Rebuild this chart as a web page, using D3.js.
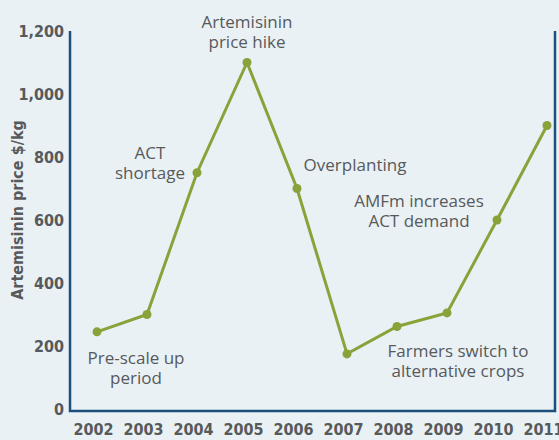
<!DOCTYPE html>
<html>
<head>
<meta charset="utf-8">
<script src="https://cdn.jsdelivr.net/npm/d3@7"></script>
<style>
  html, body { margin: 0; padding: 0; background: #e9f1f5; }
  .tick text, .ytitle { font-family: "Liberation Sans Narrow", "DejaVu Sans Condensed", sans-serif; font-stretch: condensed; font-weight: bold; font-size: 16px; fill: #58595b; }
  .note { font-family: "Open Sans", "Noto Sans", sans-serif; font-size: 17px; fill: #58595b; }
</style>
</head>
<body>
<div id="chart"></div>
<script>
// Datos
const years = ["2002", "2003", "2004", "2005", "2006", "2007", "2008", "2009", "2010", "2011"];
const prices = [245, 300, 750, 1100, 700, 175, 262, 305, 600, 900];
const yTicks = [0, 200, 400, 600, 800, 1000, 1200];

// Anotaciones: año de referencia, valor de referencia, texto
const noteYears = ["2003", "2003", "2005", "2006", "2009", "2009"];
const noteValues = [794, 143, 1210, 756, 641, 165];
const noteLines = [
  ["ACT", "shortage"],
  ["Pre-scale up", "period"],
  ["Artemisinin", "price hike"],
  ["Overplanting"],
  ["AMFm increases", "ACT demand"],
  ["Farmers switch to", "alternative crops"]
];
const noteShift = [0.06, -0.22, 0, 1.16, -0.56, 0.22];

const width = 559;
const height = 440;
const margin = { top: 31, right: 4, bottom: 30, left: 70 };

const svg = d3.select("#chart")
  .append("svg")
  .attr("width", width)
  .attr("height", height);

svg.append("rect")
  .attr("width", width)
  .attr("height", height)
  .attr("fill", "#e9f1f5");

const x = d3.scalePoint()
  .domain(years)
  .range([margin.left + 27, width - 12]);

const y = d3.scaleLinear()
  .domain([0, 1200])
  .range([height - margin.bottom - 1, margin.top]);

// Eje Y
const yAxis = svg.append("g")
  .attr("transform", `translate(${margin.left},0)`)
  .call(d3.axisLeft(y).tickValues(yTicks).tickSize(0).tickPadding(6).tickFormat(d3.format(",")));
yAxis.select(".domain").remove();

// Eje X
const xAxis = svg.append("g")
  .attr("transform", `translate(0,${height - margin.bottom})`)
  .call(d3.axisBottom(x).tickSize(0).tickPadding(14));
xAxis.select(".domain").remove();
xAxis.selectAll(".tick text").attr("dx", -4);

// Marco: izquierda, abajo, derecha
const x0 = margin.left, x1 = width - margin.right, yb = height - margin.bottom + 1;
svg.append("path")
  .attr("d", `M${x0},${margin.top}V${yb}H${x1}V${margin.top}`)
  .attr("fill", "none")
  .attr("stroke", "#1c4f7c")
  .attr("stroke-width", 2.5);

// Titulo del eje Y
svg.append("text")
  .attr("class", "ytitle")
  .attr("transform", `translate(23,${(margin.top + yb) / 2 - 11}) rotate(-90)`)
  .attr("text-anchor", "middle")
  .text("Artemisinin price $/kg");

// Linea
const line = d3.line()
  .x((d, i) => x(years[i]))
  .y(d => y(d));

svg.append("path")
  .datum(prices)
  .attr("d", line)
  .attr("fill", "none")
  .attr("stroke", "#8aa23a")
  .attr("stroke-width", 3);

svg.selectAll("circle.pt")
  .data(prices)
  .enter()
  .append("circle")
  .attr("class", "pt")
  .attr("cx", (d, i) => x(years[i]))
  .attr("cy", d => y(d))
  .attr("r", 4.5)
  .attr("fill", "#8aa23a");

// Anotaciones
const step = x.step();
noteLines.forEach((lines, i) => {
  const cx = x(noteYears[i]) + noteShift[i] * step;
  const t = svg.append("text")
    .attr("class", "note")
    .attr("text-anchor", "middle")
    .attr("x", cx)
    .attr("y", y(noteValues[i]));
  lines.forEach((s, j) => {
    t.append("tspan")
      .attr("x", cx)
      .attr("dy", j === 0 ? 0 : 20)
      .text(s);
  });
});
</script>
</body>
</html>
